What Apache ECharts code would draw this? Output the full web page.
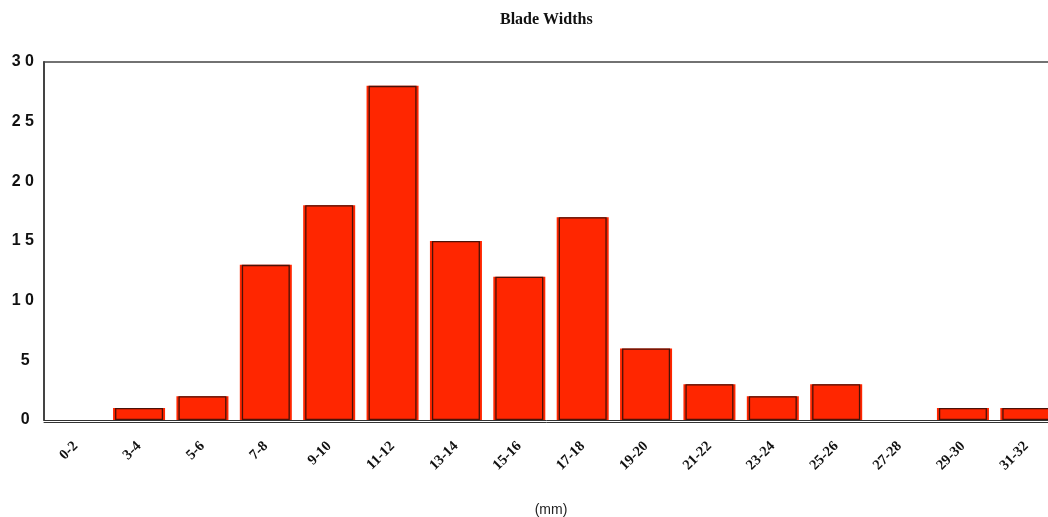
<!DOCTYPE html>
<html>
<head>
<meta charset="utf-8">
<script src="https://cdn.jsdelivr.net/npm/echarts@6/dist/echarts.min.js"></script>
<style>
    html, body { margin: 0; padding: 0; background: #ffffff; }
    #chart { width: 1048px; height: 517px; }
</style>
</head>
<body>
<div id="chart"></div>
<script>
// bins of blade width (mm) and how many blades fall in each
var widthBins = ['0-2', '3-4', '5-6', '7-8', '9-10', '11-12', '13-14', '15-16',
    '17-18', '19-20', '21-22', '23-24', '25-26', '27-28', '29-30', '31-32'];
var bladeCounts = [0, 1, 2, 13, 18, 28, 15, 12, 17, 6, 3, 2, 3, 0, 1, 1];
var yTicks = [0, 5, 10, 15, 20, 25, 30];

var barRed = '#ff2600';
var barEdge = '#4a1208';

var chart = echarts.init(document.getElementById('chart'), null, {
    renderer: 'canvas'
});

// empty bins get no outline, like the original
function buildBarData(counts) {
    return counts.map(function(count) {
        if (count === 0) {
            return { value: count, itemStyle: { opacity: 0 } };
        }
        return count;
    });
}

var options = {
    animation: false,
    title: {
        text: 'Blade Widths',
        left: 495,
        top: 7,
        textStyle: {
            fontFamily: 'Liberation Serif',
            fontWeight: 'bold',
            fontSize: 16,
            color: '#111111'
        }
    },
    grid: {
        left: 44,
        top: 62,
        width: 1014,
        height: 358,
        outerBoundsMode: 'none',
        containLabel: false
    },
    xAxis: [
        {
            type: 'category',
            data: widthBins,
            position: 'bottom',
            name: '(mm)',
            nameLocation: 'middle',
            nameGap: 83,
            nameTextStyle: {
                fontFamily: 'Liberation Sans',
                fontSize: 14,
                color: '#222222'
            },
            axisLine: { show: true, lineStyle: { color: '#333333', width: 1 } },
            axisTick: { show: false },
            axisLabel: {
                rotate: 45,
                margin: 24,
                fontFamily: 'Liberation Serif',
                fontWeight: 'bold',
                fontSize: 14.5,
                color: '#111111'
            },
            splitLine: { show: false }
        },
        {
            // second line of the doubled base line
            type: 'category',
            data: widthBins,
            position: 'bottom',
            offset: 2,
            axisLine: { show: true, lineStyle: { color: '#333333', width: 1 } },
            axisTick: { show: false },
            axisLabel: { show: false }
        },
        {
            // frame line along the top
            type: 'category',
            data: widthBins,
            position: 'top',
            axisLine: { show: true, lineStyle: { color: '#444444', width: 1.5 } },
            axisTick: { show: false },
            axisLabel: { show: false }
        }
    ],
    yAxis: {
        type: 'value',
        min: yTicks[0],
        max: yTicks[yTicks.length - 1],
        interval: 5,
        axisLine: { show: true, lineStyle: { color: '#444444', width: 2 } },
        axisTick: { show: false },
        splitLine: { show: false },
        axisLabel: {
            margin: 10,
            fontFamily: 'Liberation Sans',
            fontWeight: 'bold',
            fontSize: 16,
            color: '#111111',
            formatter: function(value) {
                var s = String(value).split('').join(' ');
                return s.length === 1 ? s + ' ' : s;
            }
        }
    },
    series: [
        {
            // red body, slightly wider, gives the bright outer rim
            type: 'bar',
            xAxisIndex: 0,
            data: buildBarData(bladeCounts),
            barWidth: 52,
            itemStyle: {
                color: barRed,
                borderWidth: 0
            },
            silent: true
        },
        {
            // dark inner outline (own axis so it is centred on the same bins)
            type: 'bar',
            xAxisIndex: 1,
            data: buildBarData(bladeCounts),
            barWidth: 48,
            itemStyle: {
                color: barRed,
                borderColor: barEdge,
                borderWidth: 1.3
            },
            silent: true
        }
    ]
};

chart.setOption(options);
</script>
</body>
</html>
